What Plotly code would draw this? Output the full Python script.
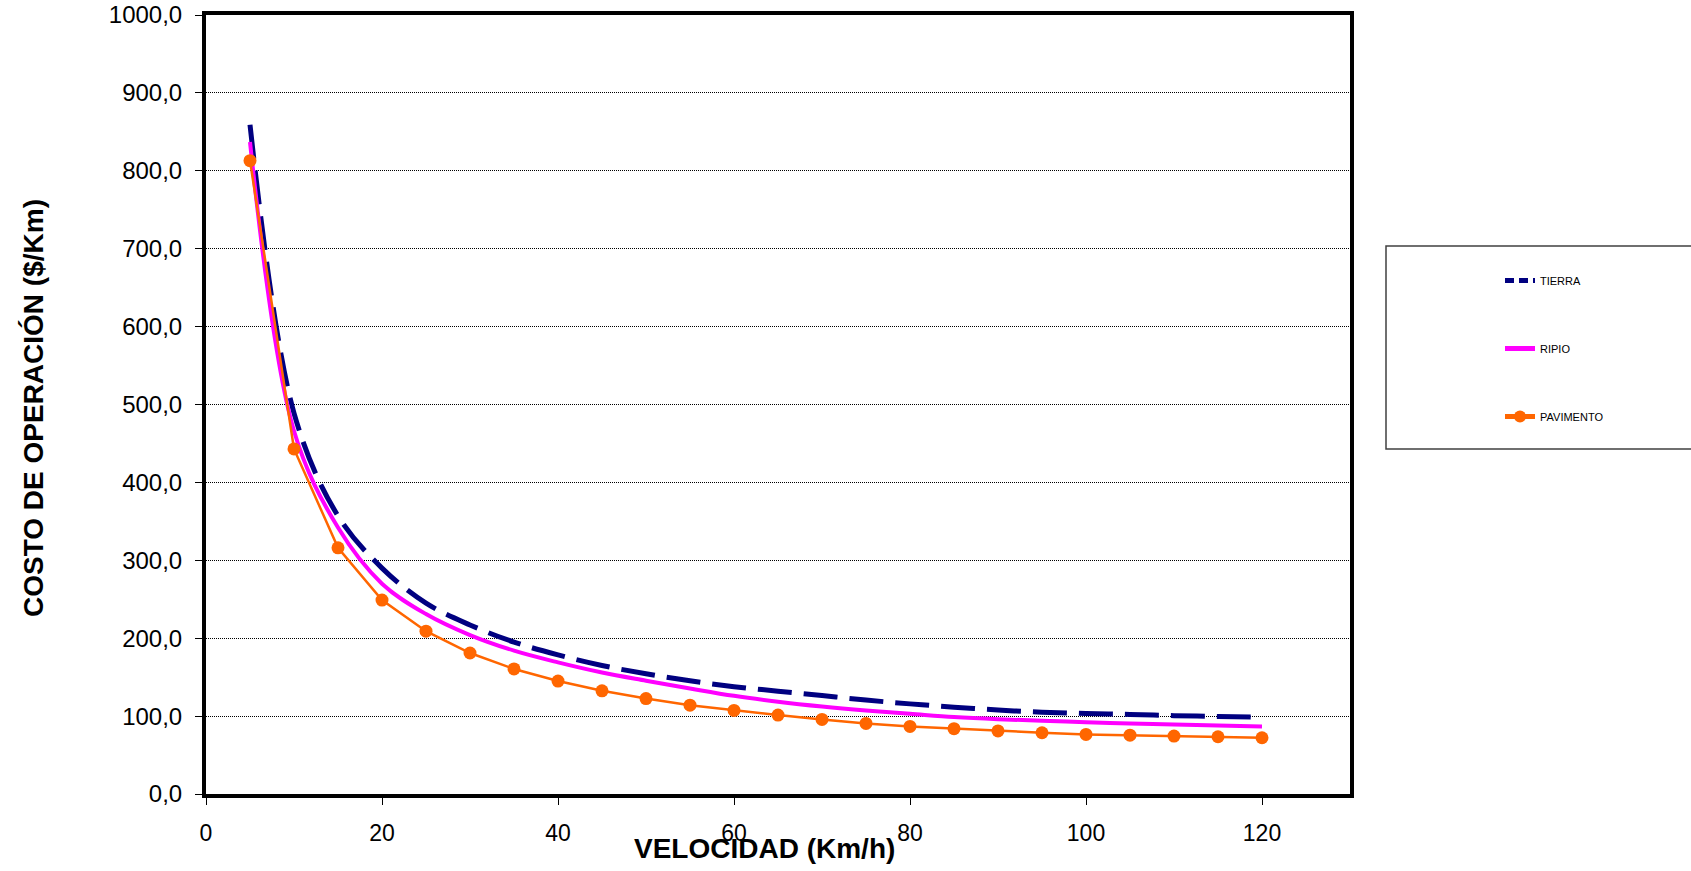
import plotly.graph_objects as go

# ---------------- data ----------------
velocidad = [5, 10, 15, 20, 25, 30, 35, 40, 45, 50, 55, 60,
             65, 70, 75, 80, 85, 90, 95, 100, 105, 110, 115, 120]

tierra = [859, 489, 357, 290, 245, 217, 195, 178.6, 165, 154.3, 145.3, 137.8,
          132, 126.4, 120.6, 115.7, 111.5, 107.8, 105.1, 103.4, 102.1, 100.6, 99.6, 98.7]

ripio = [837, 466, 342, 270, 231, 204, 184, 169, 156, 145.5, 135.5, 126,
         118.5, 112.3, 107.2, 103, 98.8, 96.0, 94.0, 92.2, 90.6, 89.3, 88, 86.8]

pavimento = [813, 443, 316, 249, 209, 181, 160.5, 145, 132.5, 122.5, 114, 107.3,
             101.3, 95.7, 90.6, 86.8, 83.8, 81, 78.6, 76.5, 75.5, 74.4, 73.5, 72.2]

series_names = ["TIERRA", "RIPIO", "PAVIMENTO"]
x_ticks = [0, 20, 40, 60, 80, 100, 120]
y_ticks = [0, 100, 200, 300, 400, 500, 600, 700, 800, 900, 1000]

x_title = "VELOCIDAD (Km/h)"
y_title = "COSTO DE OPERACIÓN ($/Km)"

FONT = "Liberation Sans, Arial, sans-serif"
NAVY, MAGENTA, ORANGE = "#000080", "#FF00FF", "#FF6600"

fig = go.Figure()

fig.add_trace(go.Scatter(
    x=velocidad, y=tierra, name=series_names[0], mode="lines",
    line=dict(color=NAVY, width=5, dash="34px,12px", shape="spline", smoothing=1),
    legendgroup="g1", showlegend=False,
))
# legend entry for TIERRA (shorter dash so the dashes show in the legend sample)
fig.add_trace(go.Scatter(
    x=[None], y=[None], name=series_names[0], mode="lines",
    line=dict(color=NAVY, width=3, dash="9px,5px"),
    legendgroup="g1", showlegend=True, hoverinfo="skip",
))
fig.add_trace(go.Scatter(
    x=velocidad, y=ripio, name=series_names[1], mode="lines",
    line=dict(color=MAGENTA, width=4, shape="spline", smoothing=1),
    legendgroup="g2",
))
fig.add_trace(go.Scatter(
    x=velocidad, y=pavimento, name=series_names[2], mode="lines+markers",
    line=dict(color=ORANGE, width=2.5),
    marker=dict(color=ORANGE, size=13, symbol="circle"),
    legendgroup="g3",
))

W, H = 1691, 871
L, R, T, B = 206, 341, 15, 77
pw = W - L - R
ph = H - T - B


def px_x(x):
    return (x - L) / pw


def px_y(y):
    return (H - B - y) / ph


fig.update_layout(
    width=W, height=H,
    margin=dict(l=L, r=R, t=T, b=B, autoexpand=False),
    paper_bgcolor="white",
    plot_bgcolor="white",
    separators=",.",
    font=dict(family=FONT, color="black"),
    showlegend=True,
    legend=dict(
        x=px_x(1500), y=px_y(266), xanchor="left", yanchor="top",
        bgcolor="rgba(0,0,0,0)", borderwidth=0,
        font=dict(family=FONT, size=11, color="black"),
        traceorder="grouped", tracegroupgap=49,
        itemsizing="constant",
    ),
    xaxis=dict(
        range=[0, 130],
        tickvals=x_ticks,
        ticks="outside", ticklen=7, tickwidth=1, tickcolor="black",
        ticklabelstandoff=8,
        showgrid=False, zeroline=False, automargin=False,
        showline=True, linewidth=4, linecolor="black", mirror=True,
        tickfont=dict(family=FONT, size=23, color="black"),
    ),
    yaxis=dict(
        range=[0, 1000],
        tickvals=y_ticks, tickformat=".1f",
        ticks="outside", ticklen=7, tickwidth=1, tickcolor="black",
        ticklabelstandoff=8, automargin=False,
        showgrid=True, gridcolor="black", gridwidth=1, griddash="1px,1px",
        zeroline=False,
        showline=True, linewidth=4, linecolor="black", mirror=True,
        tickfont=dict(family=FONT, size=24, color="black"),
    ),
    shapes=[
        dict(type="rect", xref="paper", yref="paper",
             x0=px_x(1386), x1=px_x(1720), y0=px_y(449), y1=px_y(246),
             line=dict(color="#404040", width=1.5), fillcolor="rgba(0,0,0,0)",
             layer="below"),
    ],
    annotations=[
        dict(text=x_title, xref="paper", yref="paper",
             x=px_x(764), y=px_y(848), xanchor="center", yanchor="middle",
             showarrow=False, font=dict(family=FONT, size=28, color="black", weight="bold")),
        dict(text=y_title, xref="paper", yref="paper",
             x=px_x(33), y=px_y(408), xanchor="center", yanchor="middle",
             textangle=-90,
             showarrow=False, font=dict(family=FONT, size=28, color="black", weight="bold")),
    ],
)

fig.write_html("out.html", config={"displayModeBar": False},
               post_script="document.body.style.margin='0';")
